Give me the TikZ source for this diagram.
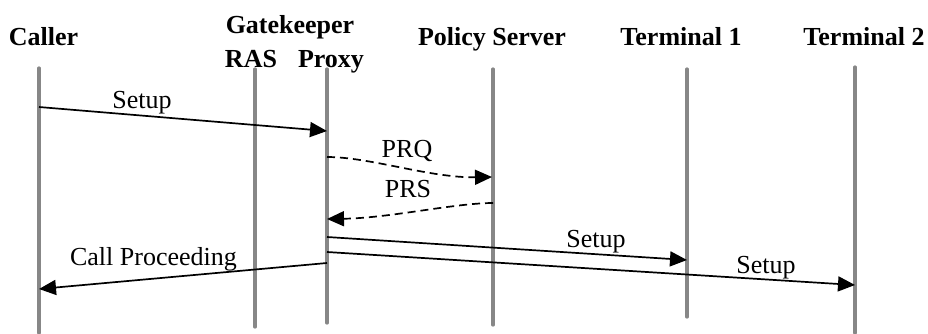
\documentclass[tikz,border=0pt]{standalone}
\usepackage{fontspec}
\setmainfont{Liberation Serif}
\usetikzlibrary{arrows.meta}
\definecolor{lifegray}{RGB}{135,135,135}
\begin{document}
\begin{tikzpicture}[x=1pt,y=-1pt,
  life/.style={line width=3.2pt, draw=lifegray, line cap=round},
  msg/.style={line width=1.7pt, -{Triangle[length=17pt,width=15pt]}},
  dmsg/.style={msg, dash pattern=on 8pt off 5pt},
  hdr/.style={font=\bfseries\fontsize{26}{28}\selectfont, anchor=base, inner sep=0pt},
  lbl/.style={font=\fontsize{26}{28}\selectfont, anchor=base, inner sep=0pt}]
\useasboundingbox (0,0) rectangle (928,333);
% headers
\node[hdr] (hcaller) at (43.5,45.5) {Caller};
\node[hdr] (hgk) at (290,33) {Gatekeeper};
\node[hdr] (hras) at (251,67) {RAS};
\node[hdr] (hproxy) at (331,67) {Proxy};
\node[hdr] (hpol) at (492,45) {Policy Server};
\node[hdr] (ht1) at (681,45) {Terminal 1};
\node[hdr] (ht2) at (864,45) {Terminal 2};
% lifelines
\coordinate (ca0) at (39,68);  \coordinate (ca1) at (39,333);
\coordinate (ra0) at (255,69); \coordinate (ra1) at (255,327);
\coordinate (px0) at (327,69); \coordinate (px1) at (327,323);
\coordinate (po0) at (493,69); \coordinate (po1) at (493,325);
\coordinate (ta0) at (687,69); \coordinate (ta1) at (687,317);
\coordinate (tb0) at (855,67); \coordinate (tb1) at (855,333);
\draw[life] (ca0) -- (ca1);
\draw[life] (ra0) -- (ra1);
\draw[life] (px0) -- (px1);
\draw[life] (po0) -- (po1);
\draw[life] (ta0) -- (ta1);
\draw[life] (tb0) -- (tb1);
% message end points
\coordinate (s1a) at (39,107);  \coordinate (s1b) at (327,131);
\coordinate (qa) at (327,157);  \coordinate (qb) at (492,177);
\coordinate (ra) at (493,203);  \coordinate (rb) at (327,219);
\coordinate (s2a) at (327,237); \coordinate (s2b) at (687,260);
\coordinate (s3a) at (327,252); \coordinate (s3b) at (855,285);
\coordinate (cpa) at (327,263); \coordinate (cpb) at (39,289);
% messages
\draw[msg] (s1a) -- (s1b);
\draw[dmsg] (qa) .. controls (370,157) and (430,178) .. (qb);
\draw[dmsg] (ra) .. controls (455,203) and (390,218) .. (rb);
\draw[msg] (s2a) -- (s2b);
\draw[msg] (s3a) -- (s3b);
\draw[msg] (cpa) -- (cpb);
% labels
\node[lbl] (l1) at (142,108) {Setup};
\node[lbl] (l2) at (407,157) {PRQ};
\node[lbl] (l3) at (408,197) {PRS};
\node[lbl] (l4) at (596,247) {Setup};
\node[lbl] (l5) at (766,273) {Setup};
\node[lbl] (l6) at (153.5,265) {Call Proceeding};
\end{tikzpicture}
\end{document}
